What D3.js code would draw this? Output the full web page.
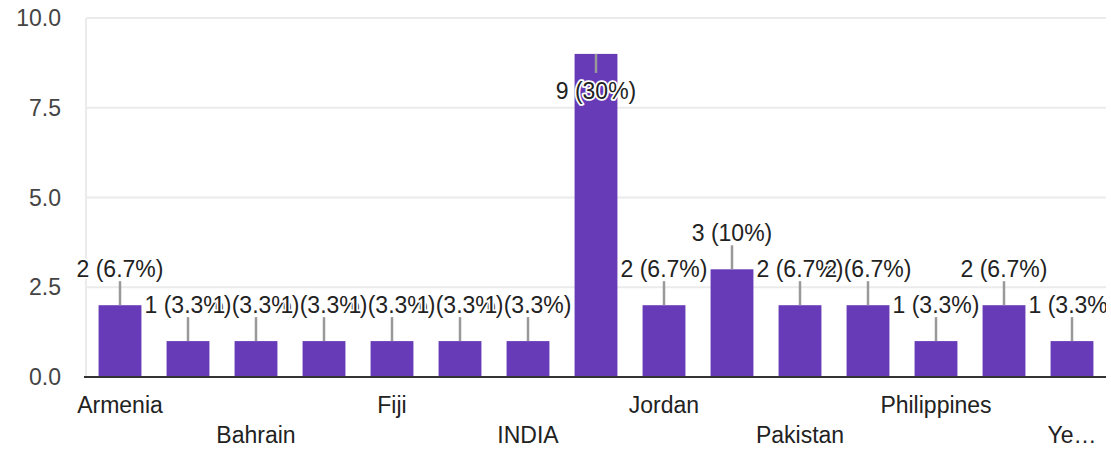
<!DOCTYPE html>
<html>
<head>
<meta charset="utf-8">
<script src="https://cdn.jsdelivr.net/npm/d3@7"></script>
<style>
  body { margin: 0; background: #fff; }
  text { font-family: "Liberation Sans", Arial, sans-serif; }
</style>
</head>
<body>
<div id="chart"></div>
<script>
// categories (odd ones have no visible tick label in the original)
const categories = ["Armenia", "Australia", "Bahrain", "Bangladesh", "Fiji", "Germany", "INDIA", "India",
  "Jordan", "Nepal", "Pakistan", "Palestine", "Philippines", "Saudi Arabia", "Yemen"];
const tickLabels = ["Armenia", "", "Bahrain", "", "Fiji", "", "INDIA", "", "Jordan", "", "Pakistan", "",
  "Philippines", "", "Ye\u2026"];
const counts = [2, 1, 1, 1, 1, 1, 1, 9, 2, 3, 2, 2, 1, 2, 1];
const yTicks = [0, 2.5, 5, 7.5, 10];

const total = d3.sum(counts);
const W = 1111, H = 452;
const plotLeft = 86, plotRight = 1106, plotTop = 18, plotBottom = 377;
const fontSize = "23px";

const svg = d3.select("#chart").append("svg")
  .attr("width", W).attr("height", H);

// value labels get cut at the right edge of the plot, like the original
svg.append("clipPath").attr("id", "clip")
  .append("rect")
  .attr("x", 0).attr("y", 0)
  .attr("width", plotRight).attr("height", plotBottom);

const x = d3.scaleBand()
  .domain(categories)
  .range([plotLeft, plotRight])
  .paddingInner(0.37)
  .paddingOuter(0.185);

const y = d3.scaleLinear().domain([0, 10]).range([plotBottom, plotTop]);

// gridlines
svg.append("g").selectAll("line")
  .data(yTicks.filter(d => d > 0))
  .enter().append("line")
  .attr("x1", plotLeft).attr("x2", plotRight)
  .attr("y1", d => y(d)).attr("y2", d => y(d))
  .attr("stroke", "#ebebeb").attr("stroke-width", 2);

svg.append("line")
  .attr("x1", plotLeft).attr("x2", plotLeft)
  .attr("y1", plotTop).attr("y2", plotBottom)
  .attr("stroke", "#ebebeb").attr("stroke-width", 2);

// y tick labels
svg.append("g").selectAll("text")
  .data(yTicks)
  .enter().append("text")
  .attr("x", 61)
  .attr("y", d => y(d) + 8)
  .attr("text-anchor", "end")
  .attr("fill", "#444")
  .style("font-size", fontSize)
  .text(d => d.toFixed(1));

// bars
svg.append("g").selectAll("rect")
  .data(counts)
  .enter().append("rect")
  .attr("x", (d, i) => x(categories[i]))
  .attr("y", d => y(d))
  .attr("width", x.bandwidth())
  .attr("height", d => plotBottom - y(d))
  .attr("fill", "#673ab7");

// baseline
svg.append("line")
  .attr("x1", plotLeft - 2).attr("x2", plotRight)
  .attr("y1", plotBottom).attr("y2", plotBottom)
  .attr("stroke", "#333").attr("stroke-width", 2);

// x tick labels, staggered in two rows
svg.append("g").selectAll("text")
  .data(tickLabels)
  .enter().append("text")
  .attr("x", (d, i) => x(categories[i]) + x.bandwidth() / 2)
  .attr("y", (d, i) => (i % 4 === 0 ? 413 : 443))
  .attr("text-anchor", "middle")
  .attr("fill", "#222")
  .style("font-size", fontSize)
  .text(d => d);

// value labels with leader lines
const lbl = svg.append("g").attr("clip-path", "url(#clip)");
counts.forEach((d, i) => {
  const cx = x(categories[i]) + x.bandwidth() / 2;
  const inside = y(d) - 50 < plotTop;
  const lineEnd = inside ? y(d) + 19 : y(d) - 24;
  const ty = inside ? lineEnd + 26 : lineEnd - 4;
  const g = lbl.append("g");
  g.append("line")
    .attr("x1", cx).attr("x2", cx)
    .attr("y1", y(d)).attr("y2", lineEnd)
    .attr("stroke", "#999").attr("stroke-width", 2.5);
  const pct = d3.format(".2")(d / total * 100);
  g.append("text")
    .attr("x", cx).attr("y", ty)
    .attr("text-anchor", "middle")
    .attr("fill", "#222")
    .attr("stroke", "#fff").attr("stroke-width", 3.5)
    .attr("paint-order", "stroke")
    .attr("stroke-linejoin", "round")
    .style("font-size", fontSize)
    .text(`${d} (${pct}%)`);
});
</script>
</body>
</html>
